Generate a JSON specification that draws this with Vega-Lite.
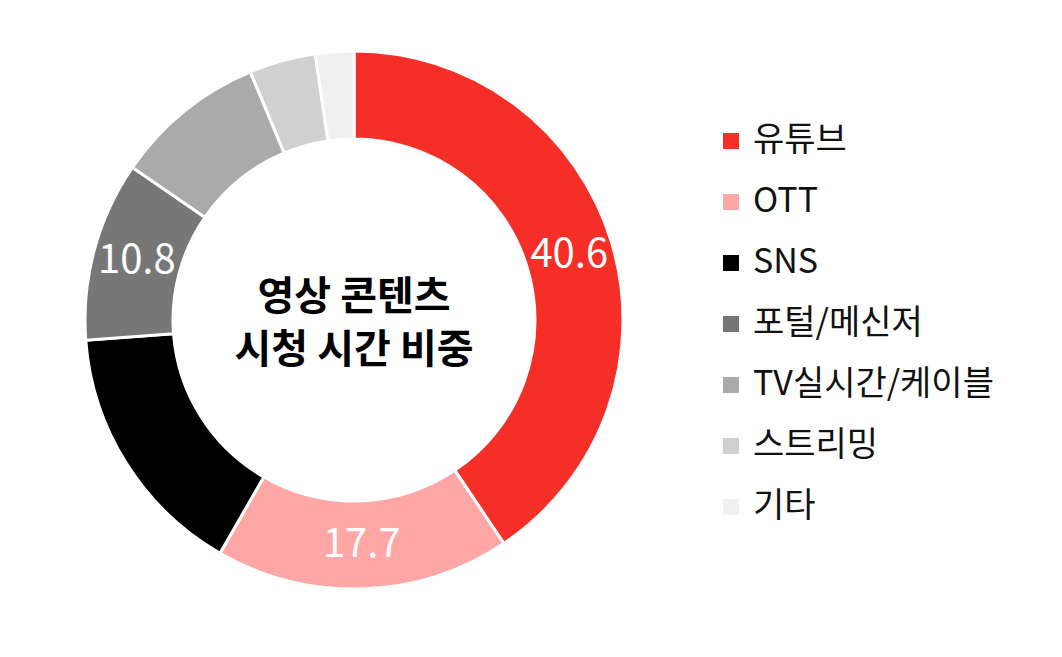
{
  "$schema": "https://vega.github.io/schema/vega-lite/v6.json",
  "width": 708,
  "height": 640,
  "autosize": {"type": "none"},
  "padding": {"left": 0, "top": 0, "right": 354, "bottom": 17},
  "background": "white",
  "config": {
    "font": "Noto Sans CJK KR",
    "view": {"stroke": null}
  },
  "datasets": {
    "share": [
      {"order": 1, "category": "유튜브", "value": 40.6, "label": "40.6"},
      {"order": 2, "category": "OTT", "value": 17.7, "label": "17.7"},
      {"order": 3, "category": "SNS", "value": 15.5, "label": ""},
      {"order": 4, "category": "포털/메신저", "value": 10.8, "label": "10.8"},
      {"order": 5, "category": "TV실시간/케이블", "value": 9.1, "label": ""},
      {"order": 6, "category": "스트리밍", "value": 4.0, "label": ""},
      {"order": 7, "category": "기타", "value": 2.3, "label": ""}
    ],
    "center": [
      {"title": ["영상 콘텐츠", "시청 시간 비중"]}
    ]
  },
  "layer": [
    {
      "data": {"name": "share"},
      "mark": {
        "type": "arc",
        "radius": 269,
        "innerRadius": 181,
        "stroke": "white",
        "strokeWidth": 3
      },
      "encoding": {
        "theta": {"field": "value", "type": "quantitative", "stack": true},
        "order": {"field": "order", "type": "quantitative"},
        "color": {
          "field": "category",
          "type": "nominal",
          "sort": ["유튜브", "OTT", "SNS", "포털/메신저", "TV실시간/케이블", "스트리밍", "기타"],
          "scale": {
            "domain": ["유튜브", "OTT", "SNS", "포털/메신저", "TV실시간/케이블", "스트리밍", "기타"],
            "range": ["#F52F28", "#FFA6A6", "#000000", "#777777", "#AAAAAA", "#D0D0D0", "#F0F0F0"]
          },
          "legend": {
            "title": null,
            "orient": "none",
            "legendX": 714,
            "legendY": 124,
            "symbolType": "square",
            "symbolSize": 256,
            "symbolStrokeWidth": 0,
            "labelFontSize": 34,
            "labelColor": "#111111",
            "labelOffset": 5,
            "rowPadding": 27,
            "labelLimit": 400
          }
        }
      }
    },
    {
      "data": {"name": "share"},
      "mark": {
        "type": "text",
        "radius": 225,
        "fontSize": 40,
        "color": "white",
        "align": "center",
        "baseline": "middle"
      },
      "encoding": {
        "theta": {"field": "value", "type": "quantitative", "stack": true},
        "order": {"field": "order", "type": "quantitative"},
        "text": {"field": "label", "type": "nominal"}
      }
    },
    {
      "data": {"name": "center"},
      "mark": {
        "type": "text",
        "fontSize": 40,
        "fontWeight": "bold",
        "color": "black",
        "lineHeight": 53,
        "align": "center",
        "baseline": "middle",
        "dy": -22
      },
      "encoding": {
        "text": {"field": "title", "type": "nominal"}
      }
    }
  ]
}
